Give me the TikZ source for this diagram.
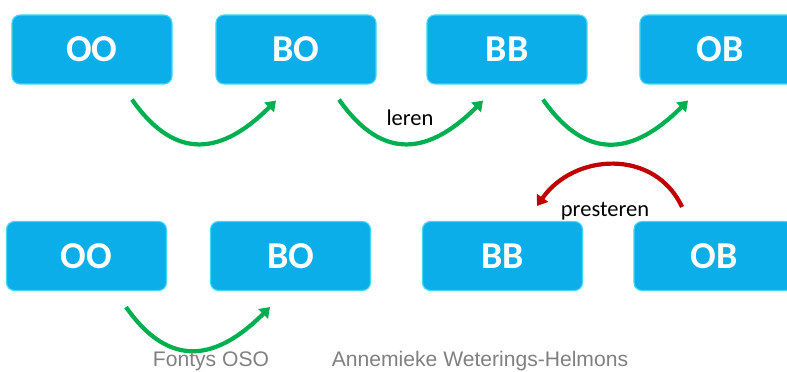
\documentclass[tikz,border=0pt]{standalone}
\usepackage{fontspec}
\setmainfont{Carlito}
\newfontfamily\footfont{Liberation Sans}
\usepackage{tikz}
\usetikzlibrary{arrows.meta}

\definecolor{boxblue}{RGB}{11,174,232}
\definecolor{boxedge}{RGB}{70,215,245}
\definecolor{arcgreen}{RGB}{0,176,80}
\definecolor{arcred}{RGB}{192,0,0}
\definecolor{footgray}{RGB}{128,128,128}

\begin{document}
\begin{tikzpicture}[
            x = 0.025cm, y = 0.025cm, % one unit per pixel
            > = {Triangle[length=7pt, width=9.5pt]}, % arrow head style
            line width = 3pt, % line style
            looseness = 1.35
        ]
        \tikzstyle{every stage}=[
            draw = boxedge,
            line width = 0.8pt,
            fill = boxblue,
            rounded corners = 0.2cm,
            minimum width = 4cm,
            minimum height = 1.725cm,
            text = white,
            font = \fontsize{27}{32}\selectfont\bfseries
        ]
        \tikzstyle{label}=[font = \fontsize{16}{19}\selectfont, text = black]
        \useasboundingbox (0,0) rectangle (787,372);

        % upper row: leren
        \node[every stage] (OO1) at (92,322.5) {OO};
        \node[every stage] (BO1) at (296,322.5) {BO};
        \node[every stage] (BB1) at (507,322.5) {BB};
        \node[every stage] (OB1) at (720,322.5) {OB};

        \draw[->, arcgreen] ([shift={(40,-15)}]OO1.south) to[out=-55, in=-135] ([shift={(-20,-16)}]BO1.south);
        \draw[->, arcgreen] ([shift={(43,-15)}]BO1.south) to[out=-55, in=-135] ([shift={(-24,-16)}]BB1.south);
        \draw[->, arcgreen] ([shift={(36,-15)}]BB1.south) to[out=-55, in=-135] ([shift={(-32,-16)}]OB1.south);
        \node[label] (leren) at (410,254) {leren};

        % lower row: presteren
        \node[every stage] (OO2) at (86.5,116) {OO};
        \node[every stage] (BO2) at (290.5,116) {BO};
        \node[every stage] (BB2) at (502.5,116) {BB};
        \node[every stage] (OB2) at (714,116) {OB};

        \draw[->, arcgreen] ([shift={(39.5,-16)}]OO2.south) to[out=-55, in=-135] ([shift={(-20.5,-16)}]BO2.south);
        \draw[->, arcred, looseness=1.14] ([shift={(-32,14)}]OB2.north) to[out=115, in=55] ([shift={(34.5,15)}]BB2.north);
        \node[label] (presteren) at (605,161) {presteren};

        % footer
        \node[font=\footfont\fontsize{15}{18}\selectfont, text=footgray] (school) at (211,11) {Fontys OSO};
        \node[font=\footfont\fontsize{15}{18}\selectfont, text=footgray] (author) at (480,11) {Annemieke Weterings-Helmons};
    \end{tikzpicture}
\end{document}
